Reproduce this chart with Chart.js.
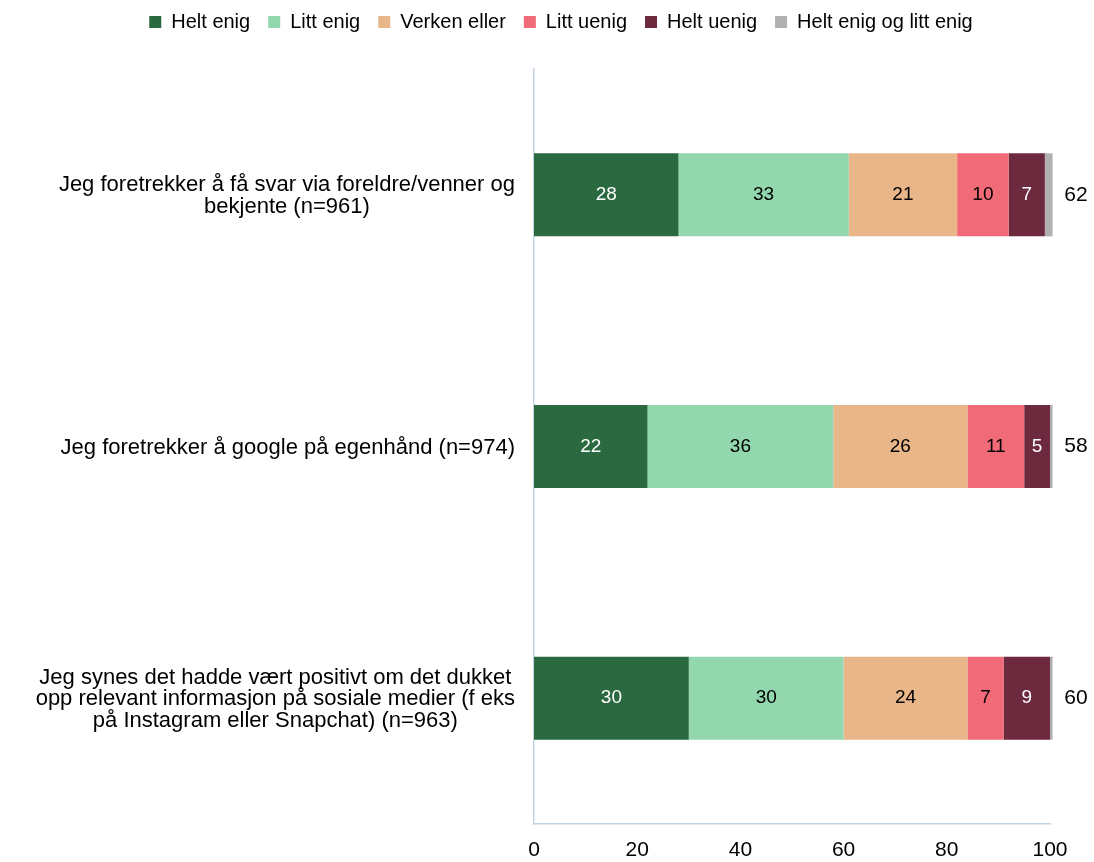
<!DOCTYPE html>
<html><head><meta charset="utf-8">
<script src="https://cdn.jsdelivr.net/npm/chart.js@4.4.1/dist/chart.umd.min.js"></script>
<style>html,body{margin:0;padding:0;background:#fff}#wrap{width:1094px;height:862px;position:relative}</style>
</head><body><div id="wrap"><canvas id="c" width="1094" height="862"></canvas></div>
<script>
const categories = [
  ["Jeg foretrekker å få svar via foreldre/venner og", "bekjente (n=961)"],
  ["Jeg foretrekker å google på egenhånd (n=974)"],
  ["Jeg synes det hadde vært positivt om det dukket", "opp relevant informasjon på sosiale medier (f eks", "på Instagram eller Snapchat) (n=963)"]
];
const seriesNames = ["Helt enig", "Litt enig", "Verken eller", "Litt uenig", "Helt uenig", "Helt enig og litt enig"];
const heltEnig = [28, 22, 30];
const littEnig = [33, 36, 30];
const verkenEller = [21, 26, 24];
const littUenig = [10, 11, 7];
const heltUenig = [7, 5, 9];
const enigRest = [1.5, 0.5, 0.5];
const enigTotal = [62, 58, 60];
const xTicks = [0, 20, 40, 60, 80, 100];

const colors = ["#2B6A41", "#93D7AE", "#E8B688", "#F06B77", "#6D2A3E", "#B0B0B0"];
const labelColors = ["#FFFFFF", "#000000", "#000000", "#000000", "#FFFFFF", "#000000"];
const FONT = "'Liberation Sans', Arial, sans-serif";
const AXIS = "#C4D3E6";

const seriesData = [heltEnig, littEnig, verkenEller, littUenig, heltUenig, enigRest];

const legendSpace = {
  id: 'legendSpace',
  beforeInit(chart) {
    const orig = chart.legend.fit;
    chart.legend.fit = function () { orig.call(this); this.height += 27; };
  }
};

const labelPlugin = {
  id: 'labels',
  afterDatasetsDraw(chart) {
    const ctx = chart.ctx;
    ctx.save();
    ctx.textBaseline = 'middle';
    ctx.textAlign = 'center';
    chart.data.datasets.forEach((ds, di) => {
      const meta = chart.getDatasetMeta(di);
      meta.data.forEach((bar, i) => {
        if (di === 5) {
          ctx.font = '21px ' + FONT;
          ctx.fillStyle = '#000';
          ctx.fillText(String(enigTotal[i]), chart.chartArea.right + 26, bar.y);
        } else {
          ctx.font = '19px ' + FONT;
          ctx.fillStyle = labelColors[di];
          ctx.fillText(String(ds.data[i]), (bar.x + bar.base) / 2, bar.y);
        }
      });
    });
    const ys = chart.scales.y;
    ctx.fillStyle = '#000';
    ctx.font = '22px ' + FONT;
    categories.forEach((lines, i) => {
      const cy = ys.getPixelForValue(i) + 1;
      const bw = Math.max(...lines.map(l => ctx.measureText(l).width));
      const cx = chart.chartArea.left - 19 - bw / 2;
      const lh = 21.7;
      lines.forEach((l, k) => ctx.fillText(l, cx, cy + (k - (lines.length - 1) / 2) * lh));
    });
    ctx.restore();
  }
};

new Chart(document.getElementById('c'), {
  type: 'bar',
  data: {
    labels: categories,
    datasets: seriesData.map((d, i) => ({
      label: seriesNames[i],
      data: d,
      backgroundColor: colors[i],
      borderWidth: 0,
      categoryPercentage: 1,
      barPercentage: 0.33,
      clip: false
    }))
  },
  options: {
    indexAxis: 'y',
    responsive: false,
    devicePixelRatio: 1,
    animation: false,
    layout: { padding: { top: -6, left: 72, right: 44, bottom: 0 } },
    plugins: {
      legend: {
        position: 'top',
        labels: {
          boxWidth: 12, boxHeight: 12, padding: 18,
          color: '#000',
          font: { family: FONT, size: 20 }
        }
      },
      tooltip: { enabled: false }
    },
    scales: {
      x: {
        stacked: true, min: 0, max: 100,
        afterBuildTicks(scale) { scale.ticks = xTicks.map(v => ({ value: v })); },
        grid: { display: false, drawTicks: false },
        border: { display: true, color: AXIS, width: 1.5 },
        ticks: { color: '#000', padding: 14, font: { family: FONT, size: 21 } },
        afterFit(scale) { scale.height = 38; }
      },
      y: {
        stacked: true,
        grid: { display: false, drawTicks: false },
        border: { display: true, color: AXIS, width: 1.5 },
        ticks: { display: false },
        afterFit(scale) { scale.width = 462; }
      }
    }
  },
  plugins: [legendSpace, labelPlugin]
});
</script>
</body></html>
